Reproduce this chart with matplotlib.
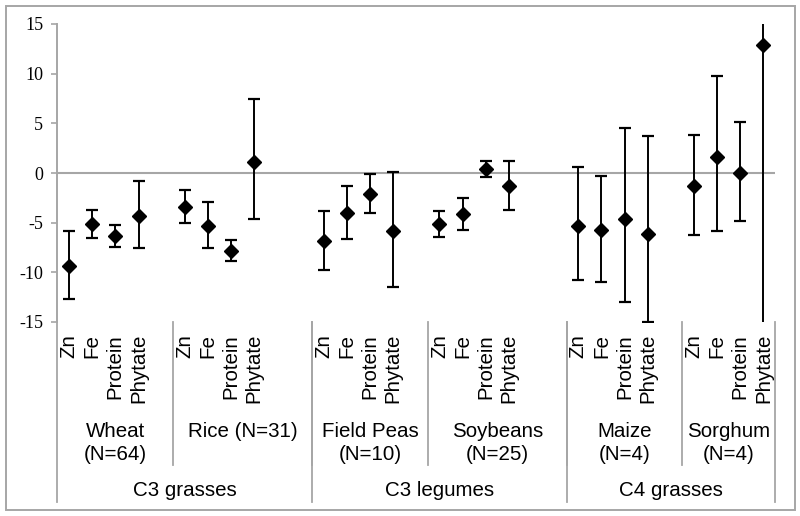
import matplotlib
matplotlib.use("Agg")
import matplotlib.pyplot as plt
import numpy as np
from matplotlib.patches import Rectangle

plt.rcParams['axes.unicode_minus'] = False
plt.rcParams['font.family'] = ['Liberation Sans', 'DejaVu Sans']

# ---- data ----
nutrients = ['Zn', 'Fe', 'Protein', 'Phytate']
crops = ['Wheat\n(N=64)', 'Rice (N=31)', 'Field Peas\n(N=10)',
         'Soybeans\n(N=25)', 'Maize\n(N=4)', 'Sorghum\n(N=4)']
groups = ['C3 grasses', 'C3 legumes', 'C4 grasses']
crops_per_group = [2, 2, 2]
# number of category slots per crop on the Excel axis (includes blank categories)
crop_slots = [5, 6, 5, 6, 5, 4]

means = [
    [-9.36, -5.14, -6.37, -4.29],   # Wheat
    [-3.39, -5.30, -7.85, 1.15],    # Rice
    [-6.85, -4.06, -2.11, -5.87],   # Field Peas
    [-5.14, -4.16, 0.44, -1.34],    # Soybeans
    [-5.30, -5.77, -4.63, -6.14],   # Maize
    [-1.34, 1.65, 0.00, 12.86],     # Sorghum
]
lowers = [
    [-12.69, -6.55, -7.48, -7.55],
    [-5.00, -7.58, -8.86, -4.66],
    [-9.77, -6.68, -4.06, -11.48],
    [-6.41, -5.77, -0.40, -3.76],
    [-10.74, -10.94, -13.02, -15.00],
    [-6.20, -5.84, -4.86, -16.00],
]
uppers = [
    [-5.84, -3.76, -5.24, -0.84],
    [-1.68, -2.88, -6.78, 7.42],
    [-3.86, -1.34, -0.10, 0.07],
    [-3.86, -2.48, 1.25, 1.18],
    [0.60, -0.30, 4.53, 3.70],
    [3.80, 9.74, 5.14, 30.00],
]
yticks = [-15, -10, -5, 0, 5, 10, 15]

# ---- figure ----
W, H = 800, 516
fig = plt.figure(figsize=(W / 100, H / 100), dpi=100)
ax_left, ax_right, ax_top, ax_bot = 57.5, 775, 24, 322
ax = fig.add_axes([ax_left / W, 1 - ax_bot / H,
                   (ax_right - ax_left) / W, (ax_bot - ax_top) / H])

gray = '#A6A6A6'
bounds = np.concatenate([[0], np.cumsum(crop_slots)])
total = bounds[-1]

xs, ys, lo, hi = [], [], [], []
for ci in range(len(crops)):
    for ni in range(len(nutrients)):
        xs.append(bounds[ci] + ni + 0.5)
        ys.append(means[ci][ni])
        lo.append(means[ci][ni] - lowers[ci][ni])
        hi.append(uppers[ci][ni] - means[ci][ni])

ax.axhline(0, color=gray, lw=1.5, zorder=1)
ax.errorbar(xs, ys, yerr=[lo, hi], fmt='D', color='black', ms=7.3,
            ecolor='black', elinewidth=1.4, capsize=4.2, capthick=1.6, zorder=3)

ax.set_xlim(0, total)
ax.set_ylim(-15, 15)
ax.set_yticks(yticks)
ax.set_yticklabels([str(t) for t in yticks])
ax.set_xticks([])
for s in ['top', 'right', 'bottom']:
    ax.spines[s].set_visible(False)
ax.spines['left'].set_color(gray)
ax.spines['left'].set_linewidth(1.4)
ax.tick_params(axis='y', direction='out', length=4.3, width=1.2, color=gray, pad=6,
               labelsize=13, labelfontfamily='Liberation Serif')

trans = ax.get_xaxis_transform()
axh = ax_bot - ax_top


def fy(ypix):
    return (ax_bot - ypix) / axh


fs = 14.8
# nutrient labels
for ci in range(len(crops)):
    for ni, nut in enumerate(nutrients):
        ax.text(bounds[ci] + ni + 0.5, fy(334), nut, rotation=90, ha='center',
                va='top', fontsize=fs, transform=trans, clip_on=False)
    ax.text((bounds[ci] + bounds[ci + 1]) / 2, fy(422), crops[ci], ha='center',
            va='top', fontsize=fs, transform=trans, clip_on=False,
            linespacing=1.3)

# crop separators
for b in bounds[1:-1]:
    ax.plot([b, b], [0, fy(465)], color=gray, lw=1.3, transform=trans, clip_on=False)

# group separators and labels
gidx = np.concatenate([[0], np.cumsum(crops_per_group)])
for gi, g in enumerate(groups):
    x0 = bounds[gidx[gi]]
    x1 = bounds[gidx[gi + 1]]
    ax.text((x0 + x1) / 2, fy(490), g, ha='center', va='center',
            fontsize=fs, transform=trans, clip_on=False)
for gi in gidx:
    b = bounds[gi]
    ax.plot([b, b], [0, fy(502)], color=gray, lw=1.3, transform=trans, clip_on=False)

# outer border
fig.patches.append(Rectangle((5.5 / W, 1 - 510 / H), (795 - 5.5) / W, (510 - 5.5) / H,
                             transform=fig.transFigure, fill=False,
                             edgecolor=gray, lw=1.4))

fig.savefig('out.png', dpi=100)
